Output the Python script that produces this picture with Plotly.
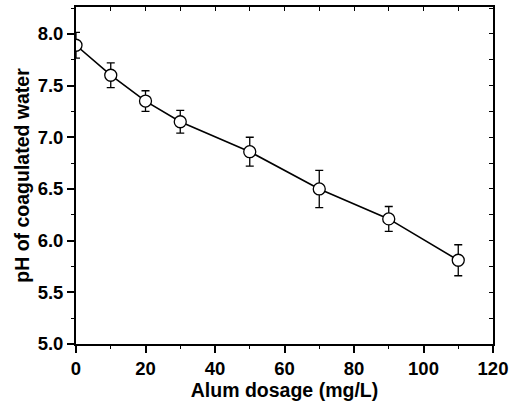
import plotly.graph_objects as go

# Alum dosage (mg/L) and resulting pH of coagulated water
dosage = [0, 10, 20, 30, 50, 70, 90, 110]
ph = [7.89, 7.60, 7.35, 7.15, 6.86, 6.50, 6.21, 5.81]
ph_err = [0.125, 0.12, 0.10, 0.11, 0.14, 0.18, 0.12, 0.15]

x_ticks = [0, 20, 40, 60, 80, 100, 120]
y_ticks = [5.0, 5.5, 6.0, 6.5, 7.0, 7.5, 8.0]

FONT = "Liberation Sans"
x_range = [0, 120]
y_range = [5.0, 8.26]

fig = go.Figure()
fig.add_trace(go.Scatter(
    x=dosage, y=ph,
    mode="lines+markers",
    line=dict(color="black", width=1.6),
    marker=dict(symbol="circle", size=12, color="white",
                line=dict(color="black", width=1.3)),
    error_y=dict(type="data", array=ph_err, visible=True,
                 color="black", thickness=1.3, width=4),
    cliponaxis=True,
    showlegend=False,
))
# empty trace that carries the top/right frame axes
fig.add_trace(go.Scatter(x=[None], y=[None], xaxis="x2", yaxis="y2",
                         showlegend=False, hoverinfo="skip"))

tick_font = dict(size=18.5, family=FONT, color="black")
title_font = dict(size=19.5, family=FONT, color="black")

fig.update_layout(
    width=515, height=402,
    margin=dict(l=76, r=18, t=7, b=55),
    paper_bgcolor="white", plot_bgcolor="white",
    font=dict(family=FONT, color="black"),
    xaxis=dict(
        range=x_range, tickvals=x_ticks, ticktext=[f"<b>{v}</b>" for v in x_ticks],
        ticks="outside", ticklen=7, tickwidth=1.5, tickcolor="black",
        minor=dict(ticks="outside", ticklen=3, tickwidth=1.3, dtick=10, tickcolor="black"),
        showline=True, linecolor="black", linewidth=1.8,
        showgrid=False, zeroline=False,
        tickfont=tick_font,
        title=dict(text="<b>Alum dosage (mg/L)</b>", font=title_font, standoff=2),
    ),
    yaxis=dict(
        range=y_range, tickvals=y_ticks, ticktext=[f"<b>{v:.1f}</b>" for v in y_ticks],
        ticks="outside", ticklen=7, tickwidth=1.5, tickcolor="black",
        minor=dict(ticks="outside", ticklen=3, tickwidth=1.3, dtick=0.25, tickcolor="black"),
        showline=True, linecolor="black", linewidth=1.8,
        showgrid=False, zeroline=False,
        tickfont=tick_font,
        title=dict(text="<b>pH of coagulated water</b>", font=title_font, standoff=3),
    ),
    xaxis2=dict(
        range=x_range, overlaying="x", side="top", matches="x",
        tickmode="linear", tick0=0, dtick=10,
        ticks="inside", ticklen=4, tickwidth=1.3, tickcolor="black",
        showticklabels=False, showline=True, linecolor="black", linewidth=1.8,
        showgrid=False, zeroline=False,
    ),
    yaxis2=dict(
        range=y_range, overlaying="y", side="right", matches="y",
        tickmode="linear", tick0=5.0, dtick=0.25,
        ticks="inside", ticklen=4, tickwidth=1.3, tickcolor="black",
        showticklabels=False, showline=True, linecolor="black", linewidth=1.8,
        showgrid=False, zeroline=False,
    ),
)

fig.write_html("out.html")
